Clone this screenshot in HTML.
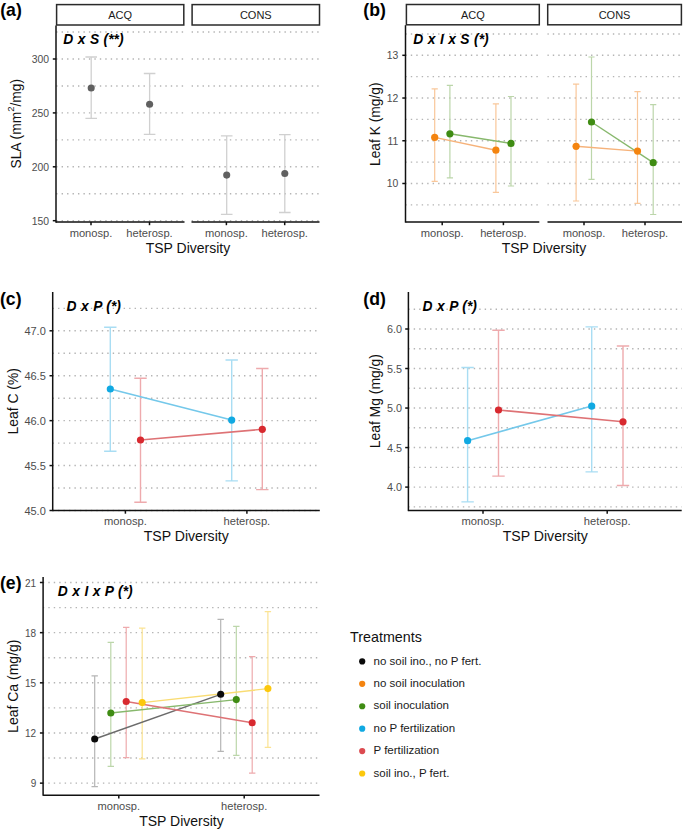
<!DOCTYPE html>
<html><head><meta charset="utf-8"><style>
html,body{margin:0;padding:0;background:#fff;}
svg{display:block;}
text{font-family:"Liberation Sans",sans-serif;}
.g{stroke:#b4b4b4;stroke-width:1.4;}
.ax{stroke:#111111;stroke-width:1.5;}
</style></head><body>
<svg width="685" height="831" viewBox="0 0 685 831">
<rect width="685" height="831" fill="#fff"/>
<line x1="56" y1="220.7" x2="184.5" y2="220.7" class="g" stroke-dasharray="1.4 4.06" stroke-dashoffset="-0.14"/>
<line x1="56" y1="193.75" x2="184.5" y2="193.75" class="g" stroke-dasharray="1.4 4.06" stroke-dashoffset="-0.14"/>
<line x1="56" y1="166.8" x2="184.5" y2="166.8" class="g" stroke-dasharray="1.4 4.06" stroke-dashoffset="-0.14"/>
<line x1="56" y1="139.85" x2="184.5" y2="139.85" class="g" stroke-dasharray="1.4 4.06" stroke-dashoffset="-0.14"/>
<line x1="56" y1="112.9" x2="184.5" y2="112.9" class="g" stroke-dasharray="1.4 4.06" stroke-dashoffset="-0.14"/>
<line x1="56" y1="85.95" x2="184.5" y2="85.95" class="g" stroke-dasharray="1.4 4.06" stroke-dashoffset="-0.14"/>
<line x1="56" y1="59" x2="184.5" y2="59" class="g" stroke-dasharray="1.4 4.06" stroke-dashoffset="-0.14"/>
<line x1="56" y1="32.05" x2="184.5" y2="32.05" class="g" stroke-dasharray="1.4 4.06" stroke-dashoffset="-0.14"/>
<line x1="191.5" y1="220.7" x2="319.5" y2="220.7" class="g" stroke-dasharray="1.4 4.06" stroke-dashoffset="-0.14"/>
<line x1="191.5" y1="193.75" x2="319.5" y2="193.75" class="g" stroke-dasharray="1.4 4.06" stroke-dashoffset="-0.14"/>
<line x1="191.5" y1="166.8" x2="319.5" y2="166.8" class="g" stroke-dasharray="1.4 4.06" stroke-dashoffset="-0.14"/>
<line x1="191.5" y1="139.85" x2="319.5" y2="139.85" class="g" stroke-dasharray="1.4 4.06" stroke-dashoffset="-0.14"/>
<line x1="191.5" y1="112.9" x2="319.5" y2="112.9" class="g" stroke-dasharray="1.4 4.06" stroke-dashoffset="-0.14"/>
<line x1="191.5" y1="85.95" x2="319.5" y2="85.95" class="g" stroke-dasharray="1.4 4.06" stroke-dashoffset="-0.14"/>
<line x1="191.5" y1="59" x2="319.5" y2="59" class="g" stroke-dasharray="1.4 4.06" stroke-dashoffset="-0.14"/>
<line x1="191.5" y1="32.05" x2="319.5" y2="32.05" class="g" stroke-dasharray="1.4 4.06" stroke-dashoffset="-0.14"/>
<rect x="56.6" y="4.6" width="127.2" height="20.4" fill="#fff" stroke="#2a2a2a" stroke-width="1.5"/>
<text x="120.2" y="19.4" font-size="11" fill="#1a1a1a" text-anchor="middle">ACQ</text>
<rect x="192.1" y="4.6" width="127.4" height="20.4" fill="#fff" stroke="#2a2a2a" stroke-width="1.5"/>
<text x="255.8" y="19.4" font-size="11" fill="#1a1a1a" text-anchor="middle">CONS</text>
<line x1="56" y1="25.6" x2="56" y2="222.65" class="ax"/>
<line x1="56" y1="222" x2="184.5" y2="222" class="ax"/>
<line x1="191.5" y1="222" x2="319.5" y2="222" class="ax"/>
<line x1="52.8" y1="220.7" x2="56" y2="220.7" class="ax"/>
<text x="49" y="224.7" font-size="10.4" fill="#4d4d4d" text-anchor="end">150</text>
<line x1="52.8" y1="166.8" x2="56" y2="166.8" class="ax"/>
<text x="49" y="170.8" font-size="10.4" fill="#4d4d4d" text-anchor="end">200</text>
<line x1="52.8" y1="112.9" x2="56" y2="112.9" class="ax"/>
<text x="49" y="116.9" font-size="10.4" fill="#4d4d4d" text-anchor="end">250</text>
<line x1="52.8" y1="59" x2="56" y2="59" class="ax"/>
<text x="49" y="63" font-size="10.4" fill="#4d4d4d" text-anchor="end">300</text>
<line x1="91" y1="222" x2="91" y2="225.2" class="ax"/>
<text x="91" y="236.7" font-size="11.15" fill="#4d4d4d" text-anchor="middle">monosp.</text>
<line x1="149.5" y1="222" x2="149.5" y2="225.2" class="ax"/>
<text x="149.5" y="236.7" font-size="11.15" fill="#4d4d4d" text-anchor="middle">heterosp.</text>
<line x1="226.4" y1="222" x2="226.4" y2="225.2" class="ax"/>
<text x="226.4" y="236.7" font-size="11.15" fill="#4d4d4d" text-anchor="middle">monosp.</text>
<line x1="284.7" y1="222" x2="284.7" y2="225.2" class="ax"/>
<text x="284.7" y="236.7" font-size="11.15" fill="#4d4d4d" text-anchor="middle">heterosp.</text>
<path d="M85.4 57H97M91.2 57V118.3M85.4 118.3H97" stroke="#d0d0d0" stroke-width="1.3" fill="none"/>
<circle cx="91.2" cy="88" r="3.55" fill="#606060"/>
<path d="M143.8 73.5H155.4M149.6 73.5V134.4M143.8 134.4H155.4" stroke="#d0d0d0" stroke-width="1.3" fill="none"/>
<circle cx="149.6" cy="104.3" r="3.55" fill="#606060"/>
<path d="M220.9 135.9H232.5M226.7 135.9V214.3M220.9 214.3H232.5" stroke="#d0d0d0" stroke-width="1.3" fill="none"/>
<circle cx="226.7" cy="175.1" r="3.55" fill="#606060"/>
<path d="M279 134.6H290.6M284.8 134.6V212.5M279 212.5H290.6" stroke="#d0d0d0" stroke-width="1.3" fill="none"/>
<circle cx="284.8" cy="173.5" r="3.55" fill="#606060"/>
<text x="63.3" y="43.8" font-size="13.8" fill="#000" font-weight="bold" font-style="italic" word-spacing="0.65">D x S (**)</text>
<text x="0" y="0" font-size="18" font-weight="bold" fill="#000" transform="translate(0.2 15.8) scale(0.98 1)">(a)</text>
<text x="20.6" y="123.7" font-size="13.8" fill="#111111" text-anchor="middle" transform="rotate(-90 20.6 123.7)">SLA (mm<tspan font-size="9.6" dy="-6.1">2</tspan><tspan dy="6.1">/mg)</tspan></text>
<text x="188" y="253.3" font-size="14" fill="#111111" text-anchor="middle">TSP Diversity</text>
<line x1="405.5" y1="204.85" x2="539.3" y2="204.85" class="g" stroke-dasharray="1.4 4.06" stroke-dashoffset="0.16"/>
<line x1="405.5" y1="183.49" x2="539.3" y2="183.49" class="g" stroke-dasharray="1.4 4.06" stroke-dashoffset="0.16"/>
<line x1="405.5" y1="162.12" x2="539.3" y2="162.12" class="g" stroke-dasharray="1.4 4.06" stroke-dashoffset="0.16"/>
<line x1="405.5" y1="140.76" x2="539.3" y2="140.76" class="g" stroke-dasharray="1.4 4.06" stroke-dashoffset="0.16"/>
<line x1="405.5" y1="119.39" x2="539.3" y2="119.39" class="g" stroke-dasharray="1.4 4.06" stroke-dashoffset="0.16"/>
<line x1="405.5" y1="98.03" x2="539.3" y2="98.03" class="g" stroke-dasharray="1.4 4.06" stroke-dashoffset="0.16"/>
<line x1="405.5" y1="76.66" x2="539.3" y2="76.66" class="g" stroke-dasharray="1.4 4.06" stroke-dashoffset="0.16"/>
<line x1="405.5" y1="55.3" x2="539.3" y2="55.3" class="g" stroke-dasharray="1.4 4.06" stroke-dashoffset="0.16"/>
<line x1="405.5" y1="33.94" x2="539.3" y2="33.94" class="g" stroke-dasharray="1.4 4.06" stroke-dashoffset="0.16"/>
<line x1="547.5" y1="204.85" x2="682" y2="204.85" class="g" stroke-dasharray="1.4 4.06" stroke-dashoffset="0.16"/>
<line x1="547.5" y1="183.49" x2="682" y2="183.49" class="g" stroke-dasharray="1.4 4.06" stroke-dashoffset="0.16"/>
<line x1="547.5" y1="162.12" x2="682" y2="162.12" class="g" stroke-dasharray="1.4 4.06" stroke-dashoffset="0.16"/>
<line x1="547.5" y1="140.76" x2="682" y2="140.76" class="g" stroke-dasharray="1.4 4.06" stroke-dashoffset="0.16"/>
<line x1="547.5" y1="119.39" x2="682" y2="119.39" class="g" stroke-dasharray="1.4 4.06" stroke-dashoffset="0.16"/>
<line x1="547.5" y1="98.03" x2="682" y2="98.03" class="g" stroke-dasharray="1.4 4.06" stroke-dashoffset="0.16"/>
<line x1="547.5" y1="76.66" x2="682" y2="76.66" class="g" stroke-dasharray="1.4 4.06" stroke-dashoffset="0.16"/>
<line x1="547.5" y1="55.3" x2="682" y2="55.3" class="g" stroke-dasharray="1.4 4.06" stroke-dashoffset="0.16"/>
<line x1="547.5" y1="33.94" x2="682" y2="33.94" class="g" stroke-dasharray="1.4 4.06" stroke-dashoffset="0.16"/>
<rect x="406.4" y="4.5" width="132.9" height="20.3" fill="#fff" stroke="#2a2a2a" stroke-width="1.5"/>
<text x="472.85" y="19.2" font-size="11" fill="#1a1a1a" text-anchor="middle">ACQ</text>
<rect x="547.7" y="4.5" width="133.7" height="20.3" fill="#fff" stroke="#2a2a2a" stroke-width="1.5"/>
<text x="614.55" y="19.2" font-size="11" fill="#1a1a1a" text-anchor="middle">CONS</text>
<line x1="405.5" y1="25.2" x2="405.5" y2="222.65" class="ax"/>
<line x1="405.5" y1="222" x2="539.3" y2="222" class="ax"/>
<line x1="547.5" y1="222" x2="682" y2="222" class="ax"/>
<line x1="402.3" y1="183.49" x2="405.5" y2="183.49" class="ax"/>
<text x="398.3" y="187.39" font-size="10.4" fill="#4d4d4d" text-anchor="end">10</text>
<line x1="402.3" y1="140.76" x2="405.5" y2="140.76" class="ax"/>
<text x="398.3" y="144.66" font-size="10.4" fill="#4d4d4d" text-anchor="end">11</text>
<line x1="402.3" y1="98.03" x2="405.5" y2="98.03" class="ax"/>
<text x="398.3" y="101.93" font-size="10.4" fill="#4d4d4d" text-anchor="end">12</text>
<line x1="402.3" y1="55.3" x2="405.5" y2="55.3" class="ax"/>
<text x="398.3" y="59.2" font-size="10.4" fill="#4d4d4d" text-anchor="end">13</text>
<line x1="442.2" y1="222" x2="442.2" y2="225.2" class="ax"/>
<text x="442.2" y="236.7" font-size="11.15" fill="#4d4d4d" text-anchor="middle">monosp.</text>
<line x1="503.4" y1="222" x2="503.4" y2="225.2" class="ax"/>
<text x="503.4" y="236.7" font-size="11.15" fill="#4d4d4d" text-anchor="middle">heterosp.</text>
<line x1="584" y1="222" x2="584" y2="225.2" class="ax"/>
<text x="584" y="236.7" font-size="11.15" fill="#4d4d4d" text-anchor="middle">monosp.</text>
<line x1="645" y1="222" x2="645" y2="225.2" class="ax"/>
<text x="645" y="236.7" font-size="11.15" fill="#4d4d4d" text-anchor="middle">heterosp.</text>
<path d="M431.6 88.8H437.8M434.7 88.8V181.3M431.6 181.3H437.8" stroke="#f9c79a" stroke-width="1.2" fill="none"/>
<path d="M492.8 103.9H499M495.9 103.9V192.3M492.8 192.3H499" stroke="#f9c79a" stroke-width="1.2" fill="none"/>
<path d="M446.8 85.4H453M449.9 85.4V177.9M446.8 177.9H453" stroke="#bcd6aa" stroke-width="1.2" fill="none"/>
<path d="M507.9 96.5H514.1M511 96.5V186M507.9 186H514.1" stroke="#bcd6aa" stroke-width="1.2" fill="none"/>
<path d="M573 84.2H579.2M576.1 84.2V201M573 201H579.2" stroke="#f9c79a" stroke-width="1.2" fill="none"/>
<path d="M634.4 91.7H640.6M637.5 91.7V203.4M634.4 203.4H640.6" stroke="#f9c79a" stroke-width="1.2" fill="none"/>
<path d="M588.4 57H594.6M591.5 57V179.3M588.4 179.3H594.6" stroke="#bcd6aa" stroke-width="1.2" fill="none"/>
<path d="M650.1 104.7H656.3M653.2 104.7V214.5M650.1 214.5H656.3" stroke="#bcd6aa" stroke-width="1.2" fill="none"/>
<line x1="434.7" y1="137.4" x2="495.9" y2="150.2" stroke="#f6b27a" stroke-width="1.4"/>
<line x1="449.9" y1="133.8" x2="511" y2="143.4" stroke="#87b86c" stroke-width="1.4"/>
<line x1="576.1" y1="146.3" x2="637.5" y2="151.1" stroke="#f6b27a" stroke-width="1.4"/>
<line x1="591.5" y1="122" x2="653.2" y2="162.7" stroke="#87b86c" stroke-width="1.4"/>
<circle cx="434.7" cy="137.4" r="3.6" fill="#f4840f"/>
<circle cx="495.9" cy="150.2" r="3.6" fill="#f4840f"/>
<circle cx="449.9" cy="133.8" r="3.6" fill="#3f8c13"/>
<circle cx="511" cy="143.4" r="3.6" fill="#3f8c13"/>
<circle cx="576.1" cy="146.3" r="3.6" fill="#f4840f"/>
<circle cx="637.5" cy="151.1" r="3.6" fill="#f4840f"/>
<circle cx="591.5" cy="122" r="3.6" fill="#3f8c13"/>
<circle cx="653.2" cy="162.7" r="3.6" fill="#3f8c13"/>
<text x="413.3" y="43.5" font-size="13.8" fill="#000" font-weight="bold" font-style="italic" word-spacing="0.65">D x I x S (*)</text>
<text x="0" y="0" font-size="18" font-weight="bold" fill="#000" transform="translate(363.3 15.8) scale(0.98 1)">(b)</text>
<text x="379.7" y="124.2" font-size="13.8" fill="#111111" text-anchor="middle" transform="rotate(-90 379.7 124.2)">Leaf K (mg/g)</text>
<text x="544" y="253.3" font-size="14" fill="#111111" text-anchor="middle">TSP Diversity</text>
<line x1="52.7" y1="510.5" x2="319.8" y2="510.5" class="g" stroke-dasharray="1.4 4.07" stroke-dashoffset="0.15"/>
<line x1="52.7" y1="488.04" x2="319.8" y2="488.04" class="g" stroke-dasharray="1.4 4.07" stroke-dashoffset="0.15"/>
<line x1="52.7" y1="465.57" x2="319.8" y2="465.57" class="g" stroke-dasharray="1.4 4.07" stroke-dashoffset="0.15"/>
<line x1="52.7" y1="443.11" x2="319.8" y2="443.11" class="g" stroke-dasharray="1.4 4.07" stroke-dashoffset="0.15"/>
<line x1="52.7" y1="420.65" x2="319.8" y2="420.65" class="g" stroke-dasharray="1.4 4.07" stroke-dashoffset="0.15"/>
<line x1="52.7" y1="398.19" x2="319.8" y2="398.19" class="g" stroke-dasharray="1.4 4.07" stroke-dashoffset="0.15"/>
<line x1="52.7" y1="375.73" x2="319.8" y2="375.73" class="g" stroke-dasharray="1.4 4.07" stroke-dashoffset="0.15"/>
<line x1="52.7" y1="353.26" x2="319.8" y2="353.26" class="g" stroke-dasharray="1.4 4.07" stroke-dashoffset="0.15"/>
<line x1="52.7" y1="330.8" x2="319.8" y2="330.8" class="g" stroke-dasharray="1.4 4.07" stroke-dashoffset="0.15"/>
<line x1="52.7" y1="308.34" x2="319.8" y2="308.34" class="g" stroke-dasharray="1.4 4.07" stroke-dashoffset="0.15"/>
<line x1="52.7" y1="292" x2="52.7" y2="511.15" class="ax"/>
<line x1="52.7" y1="510.5" x2="319.8" y2="510.5" class="ax"/>
<line x1="49.5" y1="510.5" x2="52.7" y2="510.5" class="ax"/>
<text x="45.8" y="514.6" font-size="11" fill="#4d4d4d" text-anchor="end">45.0</text>
<line x1="49.5" y1="465.57" x2="52.7" y2="465.57" class="ax"/>
<text x="45.8" y="469.68" font-size="11" fill="#4d4d4d" text-anchor="end">45.5</text>
<line x1="49.5" y1="420.65" x2="52.7" y2="420.65" class="ax"/>
<text x="45.8" y="424.75" font-size="11" fill="#4d4d4d" text-anchor="end">46.0</text>
<line x1="49.5" y1="375.73" x2="52.7" y2="375.73" class="ax"/>
<text x="45.8" y="379.83" font-size="11" fill="#4d4d4d" text-anchor="end">46.5</text>
<line x1="49.5" y1="330.8" x2="52.7" y2="330.8" class="ax"/>
<text x="45.8" y="334.9" font-size="11" fill="#4d4d4d" text-anchor="end">47.0</text>
<line x1="125.4" y1="510.5" x2="125.4" y2="513.7" class="ax"/>
<text x="125.4" y="524.6" font-size="11.2" fill="#4d4d4d" text-anchor="middle">monosp.</text>
<line x1="246.9" y1="510.5" x2="246.9" y2="513.7" class="ax"/>
<text x="246.9" y="524.6" font-size="11.2" fill="#4d4d4d" text-anchor="middle">heterosp.</text>
<path d="M104.1 327.3H116.5M110.3 327.3V451.2M104.1 451.2H116.5" stroke="#a9ddf3" stroke-width="1.4" fill="none"/>
<path d="M225.5 360H237.9M231.7 360V480.9M225.5 480.9H237.9" stroke="#a9ddf3" stroke-width="1.4" fill="none"/>
<path d="M134.3 378.3H146.7M140.5 378.3V502.2M134.3 502.2H146.7" stroke="#eeaaad" stroke-width="1.4" fill="none"/>
<path d="M256.1 368.5H268.5M262.3 368.5V489.6M256.1 489.6H268.5" stroke="#eeaaad" stroke-width="1.4" fill="none"/>
<line x1="110.3" y1="389" x2="231.7" y2="420.1" stroke="#74c8ea" stroke-width="1.6"/>
<line x1="140.5" y1="440" x2="262.3" y2="429.3" stroke="#de7275" stroke-width="1.6"/>
<circle cx="110.3" cy="389" r="3.6" fill="#10a9e2"/>
<circle cx="231.7" cy="420.1" r="3.6" fill="#10a9e2"/>
<circle cx="140.5" cy="440" r="3.6" fill="#d8292f"/>
<circle cx="262.3" cy="429.3" r="3.6" fill="#d8292f"/>
<text x="66.6" y="311.1" font-size="13.8" fill="#000" font-weight="bold" font-style="italic" word-spacing="0.65">D x P (*)</text>
<text x="0" y="0" font-size="18" font-weight="bold" fill="#000" transform="translate(0 304.7) scale(0.98 1)">(c)</text>
<text x="18.1" y="401.3" font-size="13.9" fill="#111111" text-anchor="middle" transform="rotate(-90 18.1 401.3)">Leaf C (%)</text>
<text x="186.2" y="541.4" font-size="14.1" fill="#111111" text-anchor="middle">TSP Diversity</text>
<line x1="408.4" y1="506.86" x2="681.7" y2="506.86" class="g" stroke-dasharray="1.4 4.06" stroke-dashoffset="0.16"/>
<line x1="408.4" y1="487.1" x2="681.7" y2="487.1" class="g" stroke-dasharray="1.4 4.06" stroke-dashoffset="0.16"/>
<line x1="408.4" y1="467.34" x2="681.7" y2="467.34" class="g" stroke-dasharray="1.4 4.06" stroke-dashoffset="0.16"/>
<line x1="408.4" y1="447.57" x2="681.7" y2="447.57" class="g" stroke-dasharray="1.4 4.06" stroke-dashoffset="0.16"/>
<line x1="408.4" y1="427.81" x2="681.7" y2="427.81" class="g" stroke-dasharray="1.4 4.06" stroke-dashoffset="0.16"/>
<line x1="408.4" y1="408.05" x2="681.7" y2="408.05" class="g" stroke-dasharray="1.4 4.06" stroke-dashoffset="0.16"/>
<line x1="408.4" y1="388.29" x2="681.7" y2="388.29" class="g" stroke-dasharray="1.4 4.06" stroke-dashoffset="0.16"/>
<line x1="408.4" y1="368.52" x2="681.7" y2="368.52" class="g" stroke-dasharray="1.4 4.06" stroke-dashoffset="0.16"/>
<line x1="408.4" y1="348.76" x2="681.7" y2="348.76" class="g" stroke-dasharray="1.4 4.06" stroke-dashoffset="0.16"/>
<line x1="408.4" y1="329" x2="681.7" y2="329" class="g" stroke-dasharray="1.4 4.06" stroke-dashoffset="0.16"/>
<line x1="408.4" y1="309.24" x2="681.7" y2="309.24" class="g" stroke-dasharray="1.4 4.06" stroke-dashoffset="0.16"/>
<line x1="408.4" y1="292" x2="408.4" y2="511.15" class="ax"/>
<line x1="408.4" y1="510.5" x2="681.7" y2="510.5" class="ax"/>
<line x1="405.2" y1="487.1" x2="408.4" y2="487.1" class="ax"/>
<text x="402" y="491.2" font-size="10.8" fill="#4d4d4d" text-anchor="end">4.0</text>
<line x1="405.2" y1="447.57" x2="408.4" y2="447.57" class="ax"/>
<text x="402" y="451.68" font-size="10.8" fill="#4d4d4d" text-anchor="end">4.5</text>
<line x1="405.2" y1="408.05" x2="408.4" y2="408.05" class="ax"/>
<text x="402" y="412.15" font-size="10.8" fill="#4d4d4d" text-anchor="end">5.0</text>
<line x1="405.2" y1="368.52" x2="408.4" y2="368.52" class="ax"/>
<text x="402" y="372.62" font-size="10.8" fill="#4d4d4d" text-anchor="end">5.5</text>
<line x1="405.2" y1="329" x2="408.4" y2="329" class="ax"/>
<text x="402" y="333.1" font-size="10.8" fill="#4d4d4d" text-anchor="end">6.0</text>
<line x1="483" y1="510.5" x2="483" y2="513.7" class="ax"/>
<text x="483" y="524.9" font-size="11.2" fill="#4d4d4d" text-anchor="middle">monosp.</text>
<line x1="607.2" y1="510.5" x2="607.2" y2="513.7" class="ax"/>
<text x="607.2" y="524.9" font-size="11.2" fill="#4d4d4d" text-anchor="middle">heterosp.</text>
<path d="M461.4 367.5H473.8M467.6 367.5V501.9M461.4 501.9H473.8" stroke="#a9ddf3" stroke-width="1.4" fill="none"/>
<path d="M585.5 326.9H597.9M591.7 326.9V471.9M585.5 471.9H597.9" stroke="#a9ddf3" stroke-width="1.4" fill="none"/>
<path d="M492.3 330.3H504.7M498.5 330.3V476.1M492.3 476.1H504.7" stroke="#eeaaad" stroke-width="1.4" fill="none"/>
<path d="M616.8 346H629.2M623 346V485.5M616.8 485.5H629.2" stroke="#eeaaad" stroke-width="1.4" fill="none"/>
<line x1="467.6" y1="440.7" x2="591.7" y2="406.1" stroke="#74c8ea" stroke-width="1.6"/>
<line x1="498.5" y1="410" x2="623" y2="421.8" stroke="#de7275" stroke-width="1.6"/>
<circle cx="467.6" cy="440.7" r="3.6" fill="#10a9e2"/>
<circle cx="591.7" cy="406.1" r="3.6" fill="#10a9e2"/>
<circle cx="498.5" cy="410" r="3.6" fill="#d8292f"/>
<circle cx="623" cy="421.8" r="3.6" fill="#d8292f"/>
<text x="422.6" y="311.1" font-size="13.8" fill="#000" font-weight="bold" font-style="italic" word-spacing="0.65">D x P (*)</text>
<text x="0" y="0" font-size="18" font-weight="bold" fill="#000" transform="translate(363.3 304.6) scale(0.98 1)">(d)</text>
<text x="380.3" y="401.2" font-size="13.9" fill="#111111" text-anchor="middle" transform="rotate(-90 380.3 401.2)">Leaf Mg (mg/g)</text>
<text x="545.3" y="541.4" font-size="14.1" fill="#111111" text-anchor="middle">TSP Diversity</text>
<line x1="43.1" y1="783.14" x2="318" y2="783.14" class="g" stroke-dasharray="1.4 4.06" stroke-dashoffset="0.26"/>
<line x1="43.1" y1="758.06" x2="318" y2="758.06" class="g" stroke-dasharray="1.4 4.06" stroke-dashoffset="0.26"/>
<line x1="43.1" y1="732.98" x2="318" y2="732.98" class="g" stroke-dasharray="1.4 4.06" stroke-dashoffset="0.26"/>
<line x1="43.1" y1="707.9" x2="318" y2="707.9" class="g" stroke-dasharray="1.4 4.06" stroke-dashoffset="0.26"/>
<line x1="43.1" y1="682.82" x2="318" y2="682.82" class="g" stroke-dasharray="1.4 4.06" stroke-dashoffset="0.26"/>
<line x1="43.1" y1="657.74" x2="318" y2="657.74" class="g" stroke-dasharray="1.4 4.06" stroke-dashoffset="0.26"/>
<line x1="43.1" y1="632.66" x2="318" y2="632.66" class="g" stroke-dasharray="1.4 4.06" stroke-dashoffset="0.26"/>
<line x1="43.1" y1="607.58" x2="318" y2="607.58" class="g" stroke-dasharray="1.4 4.06" stroke-dashoffset="0.26"/>
<line x1="43.1" y1="582.5" x2="318" y2="582.5" class="g" stroke-dasharray="1.4 4.06" stroke-dashoffset="0.26"/>
<line x1="43.1" y1="577" x2="43.1" y2="795.85" class="ax"/>
<line x1="43.1" y1="795.2" x2="319.5" y2="795.2" class="ax"/>
<line x1="39.9" y1="783.14" x2="43.1" y2="783.14" class="ax"/>
<text x="36.2" y="787.34" font-size="10" fill="#4d4d4d" text-anchor="end">9</text>
<line x1="39.9" y1="732.98" x2="43.1" y2="732.98" class="ax"/>
<text x="36.2" y="737.18" font-size="10" fill="#4d4d4d" text-anchor="end">12</text>
<line x1="39.9" y1="682.82" x2="43.1" y2="682.82" class="ax"/>
<text x="36.2" y="687.02" font-size="10" fill="#4d4d4d" text-anchor="end">15</text>
<line x1="39.9" y1="632.66" x2="43.1" y2="632.66" class="ax"/>
<text x="36.2" y="636.86" font-size="10" fill="#4d4d4d" text-anchor="end">18</text>
<line x1="39.9" y1="582.5" x2="43.1" y2="582.5" class="ax"/>
<text x="36.2" y="586.7" font-size="10" fill="#4d4d4d" text-anchor="end">21</text>
<line x1="118.8" y1="795.2" x2="118.8" y2="798.4" class="ax"/>
<text x="118.8" y="810" font-size="11.1" fill="#4d4d4d" text-anchor="middle">monosp.</text>
<line x1="244.2" y1="795.2" x2="244.2" y2="798.4" class="ax"/>
<text x="244.2" y="810" font-size="11.1" fill="#4d4d4d" text-anchor="middle">heterosp.</text>
<path d="M91.5 675.9H97.9M94.7 675.9V786.7M91.5 786.7H97.9" stroke="#b5b5b5" stroke-width="1.2" fill="none"/>
<path d="M217.5 619.4H223.9M220.7 619.4V751.4M217.5 751.4H223.9" stroke="#b5b5b5" stroke-width="1.2" fill="none"/>
<path d="M107.6 642.3H114M110.8 642.3V766.3M107.6 766.3H114" stroke="#bcd6aa" stroke-width="1.2" fill="none"/>
<path d="M233.1 626.4H239.5M236.3 626.4V755.3M233.1 755.3H239.5" stroke="#bcd6aa" stroke-width="1.2" fill="none"/>
<path d="M123 627.4H129.4M126.2 627.4V757.7M123 757.7H129.4" stroke="#eeaaad" stroke-width="1.2" fill="none"/>
<path d="M249 656.7H255.4M252.2 656.7V773.1M249 773.1H255.4" stroke="#eeaaad" stroke-width="1.2" fill="none"/>
<path d="M139 628.2H145.4M142.2 628.2V758.8M139 758.8H145.4" stroke="#fbe393" stroke-width="1.2" fill="none"/>
<path d="M264.7 611.7H271.1M267.9 611.7V747.3M264.7 747.3H271.1" stroke="#fbe393" stroke-width="1.2" fill="none"/>
<line x1="94.7" y1="739" x2="220.7" y2="694.3" stroke="#6b6b6b" stroke-width="1.4"/>
<line x1="110.8" y1="713" x2="236.3" y2="699.6" stroke="#87b86c" stroke-width="1.4"/>
<line x1="126.2" y1="701.5" x2="252.2" y2="722.8" stroke="#de7275" stroke-width="1.4"/>
<line x1="142.2" y1="702.6" x2="267.9" y2="688.6" stroke="#f9dc73" stroke-width="1.4"/>
<circle cx="94.7" cy="739" r="3.55" fill="#0a0a0a"/>
<circle cx="220.7" cy="694.3" r="3.55" fill="#0a0a0a"/>
<circle cx="110.8" cy="713" r="3.55" fill="#3f8c13"/>
<circle cx="236.3" cy="699.6" r="3.55" fill="#3f8c13"/>
<circle cx="126.2" cy="701.5" r="3.55" fill="#d8292f"/>
<circle cx="252.2" cy="722.8" r="3.55" fill="#d8292f"/>
<circle cx="142.2" cy="702.6" r="3.55" fill="#fcc80c"/>
<circle cx="267.9" cy="688.6" r="3.55" fill="#fcc80c"/>
<text x="57.8" y="596" font-size="13.8" fill="#000" font-weight="bold" font-style="italic" word-spacing="0.65">D x I x P (*)</text>
<text x="0" y="0" font-size="18" font-weight="bold" fill="#000" transform="translate(0 588.9) scale(0.98 1)">(e)</text>
<text x="18.5" y="686.2" font-size="14" fill="#111111" text-anchor="middle" transform="rotate(-90 18.5 686.2)">Leaf Ca (mg/g)</text>
<text x="181.5" y="826.2" font-size="14" fill="#111111" text-anchor="middle">TSP Diversity</text>
<text x="350.1" y="641.9" font-size="14.3" fill="#111111">Treatments</text>
<circle cx="362.2" cy="661.4" r="3.1" fill="#0a0a0a"/>
<text x="373.5" y="664.5" font-size="11.5" fill="#1a1a1a">no soil ino., no P fert.</text>
<circle cx="362.2" cy="683.82" r="3.1" fill="#f4840f"/>
<text x="373.5" y="686.92" font-size="11.5" fill="#1a1a1a">no soil inoculation</text>
<circle cx="362.2" cy="706.24" r="3.1" fill="#3f8c13"/>
<text x="373.5" y="709.34" font-size="11.5" fill="#1a1a1a">soil inoculation</text>
<circle cx="362.2" cy="728.66" r="3.1" fill="#10a9e2"/>
<text x="373.5" y="731.76" font-size="11.5" fill="#1a1a1a">no P fertilization</text>
<circle cx="362.2" cy="751.08" r="3.1" fill="#dc4b50"/>
<text x="373.5" y="754.18" font-size="11.5" fill="#1a1a1a">P fertilization</text>
<circle cx="362.2" cy="773.5" r="3.1" fill="#fcc80c"/>
<text x="373.5" y="776.6" font-size="11.5" fill="#1a1a1a">soil ino., P fert.</text>
</svg>
</body></html>
